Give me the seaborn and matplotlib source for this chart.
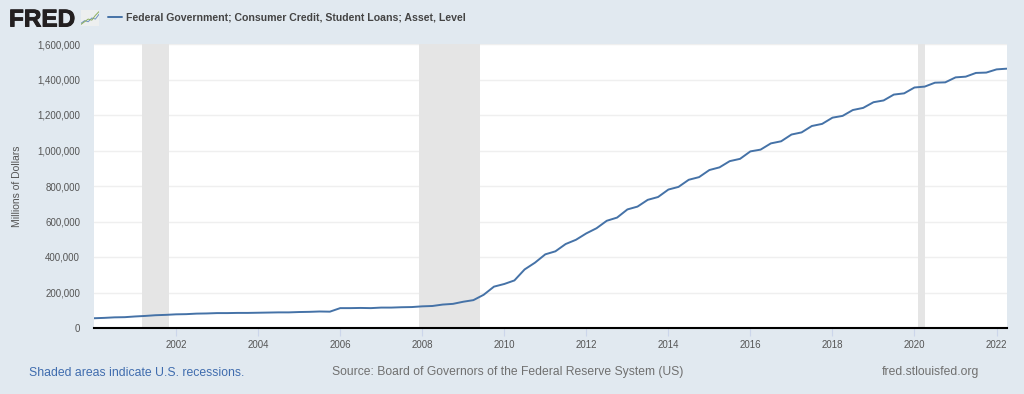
# =====================================================
# FRED - FEDERAL STUDENT LOANS CHART
# =====================================================

import pandas as pd
import matplotlib
matplotlib.use("Agg")
import matplotlib.pyplot as plt
import matplotlib.patheffects as pe
import seaborn as sns

# =====================================================
# DATA (millions of dollars, quarterly)
# =====================================================

loans_2000s = [
    55000, 57000, 60000, 61000,
    65000, 68000, 72000, 74000,
    77000, 78000, 81000, 82000,
    84000, 84000, 85000, 85000,
    86000, 87000, 88000, 88000,
    90000, 91000, 93000, 92000,
    112000, 112000, 113000, 112000,
    115000, 115000, 117000, 118000,
    122000, 124000, 132000, 136000,
    148000, 157000, 187000, 233000,
]
loans_2010s = [
    248000, 268000, 330000, 368000,
    415000, 432000, 473000, 497000,
    533000, 562000, 604000, 622000,
    668000, 684000, 722000, 738000,
    780000, 795000, 835000, 850000,
    890000, 905000, 940000, 953000,
    995000, 1005000, 1040000, 1052000,
    1090000, 1102000, 1138000, 1150000,
    1185000, 1195000, 1228000, 1240000,
    1272000, 1282000, 1315000, 1322000,
]
loans_2020s = [
    1355000, 1360000, 1382000, 1384000,
    1412000, 1416000, 1437000, 1439000,
    1457000, 1461000,
]

recession_starts = ["2001-03-01", "2007-12-01", "2020-02-01"]
recession_ends = ["2001-11-01", "2009-06-01", "2020-04-01"]

x_tick_years = [2002, 2004, 2006, 2008, 2010, 2012, 2014, 2016, 2018, 2020, 2022]
y_ticks = [0, 200000, 400000, 600000, 800000, 1000000, 1200000, 1400000, 1600000]

icon_blue = [1, 2, 1.6, 3, 2.6, 4.4]
icon_green = [0.6, 1.6, 2.6, 2.2, 4, 5.4]

series_name = "Federal Government; Consumer Credit, Student Loans; Asset, Level"
y_label = "Millions of Dollars"
note_text = "Shaded areas indicate U.S. recessions."
source_text = "Source: Board of Governors of the Federal Reserve System (US)"
site_text = "fred.stlouisfed.org"

# =====================================================
# STYLE
# =====================================================

BACKGROUND = "#E1E9F0"
LINE_BLUE = "#4572A7"

sns.set_theme(style="white")
plt.rcParams["font.family"] = ["Liberation Sans", "DejaVu Sans"]

# =====================================================
# PREPARE TABLE
# =====================================================

values = loans_2000s + loans_2010s + loans_2020s
df = pd.DataFrame({
    "date": pd.date_range("2000-01-01", periods=len(values), freq="QS"),
    "loans": values
})

# =====================================================
# MAIN CHART
# =====================================================

W, H = 1024, 394
fig = plt.figure(figsize=(W / 100, H / 100), dpi=100, facecolor=BACKGROUND)
ax = fig.add_axes([94 / W, 1 - 328 / H, (1006.7 - 94) / W, (328 - 44) / H])
ax.set_facecolor("white")

for start, end in zip(recession_starts, recession_ends):
    ax.axvspan(pd.Timestamp(start), pd.Timestamp(end), color="#E5E5E5", lw=0, zorder=2)

sns.lineplot(data=df, x="date", y="loans", color=LINE_BLUE, linewidth=1.4, ax=ax, zorder=3)

ax.set_xlim(pd.Timestamp("2000-01-01"), df["date"].iloc[-1])
ax.set_ylim(0, 1600000)

ax.set_yticks(y_ticks)
ax.set_yticklabels([f"{v:,}" for v in y_ticks], fontsize=7.0, color="#555555")
ax.set_xticks([pd.Timestamp(f"{y}-01-01") for y in x_tick_years])
ax.set_xticklabels([str(y) for y in x_tick_years], fontsize=7.0, color="#555555")

ax.tick_params(axis="y", length=0, pad=10)
ax.tick_params(axis="x", length=6, width=0.8, color="#CCD6EB", pad=3, bottom=True)

ax.grid(axis="y", color="#EFEFEF", linewidth=1)
ax.set_axisbelow(True)
ax.set_xlabel("")
ax.set_ylabel("")

for side in ["top", "left", "right"]:
    ax.spines[side].set_visible(False)
ax.spines["bottom"].set_color("black")
ax.spines["bottom"].set_linewidth(1.5)
ax.spines["bottom"].set_zorder(5)

fig.text(17.5 / W, 1 - 186 / H, y_label, rotation=90, fontsize=7.5, color="#555555",
         ha="center", va="center")

# =====================================================
# HEADER: LOGO AND LEGEND
# =====================================================

logo = fig.text(9 / W, 1 - 26.5 / H, "FRED", fontsize=17.5, fontweight="bold",
                color="#231F20", ha="left", va="baseline")
logo.set_path_effects([pe.withStroke(linewidth=0.7, foreground="#231F20")])

icon = fig.add_axes([81 / W, 1 - 26 / H, 18 / W, 16 / H])
icon.set_facecolor("#EDEFEF")
sns.lineplot(x=range(len(icon_blue)), y=icon_blue, color="#6F93BE", linewidth=0.7, ax=icon)
sns.lineplot(x=range(len(icon_green)), y=icon_green, color="#8DAF5F", linewidth=0.7, ax=icon)
icon.set_xlim(0, 5)
icon.set_ylim(0, 6)
icon.set_xticks([])
icon.set_yticks([])
icon.set_xlabel("")
icon.set_ylabel("")
for side in icon.spines:
    icon.spines[side].set_visible(False)

fig.add_artist(plt.Line2D([108 / W, 122 / W], [1 - 17.3 / H, 1 - 17.3 / H],
                          color=LINE_BLUE, linewidth=1.4))
fig.text(126 / W, 1 - 17.3 / H, series_name, fontsize=7.6, fontweight="bold",
         color="#444444", ha="left", va="center")

# =====================================================
# FOOTER
# =====================================================

fig.text(29 / W, 1 - 372.5 / H, note_text, fontsize=8.8, color="#3F6CAE", ha="left", va="center")
fig.text(332 / W, 1 - 372.5 / H, source_text, fontsize=8.75, color="#707070", ha="left", va="center")
fig.text(979 / W, 1 - 372.5 / H, site_text, fontsize=8.75, color="#707070", ha="right", va="center")

fig.savefig("out.png", dpi=100, facecolor=BACKGROUND)
